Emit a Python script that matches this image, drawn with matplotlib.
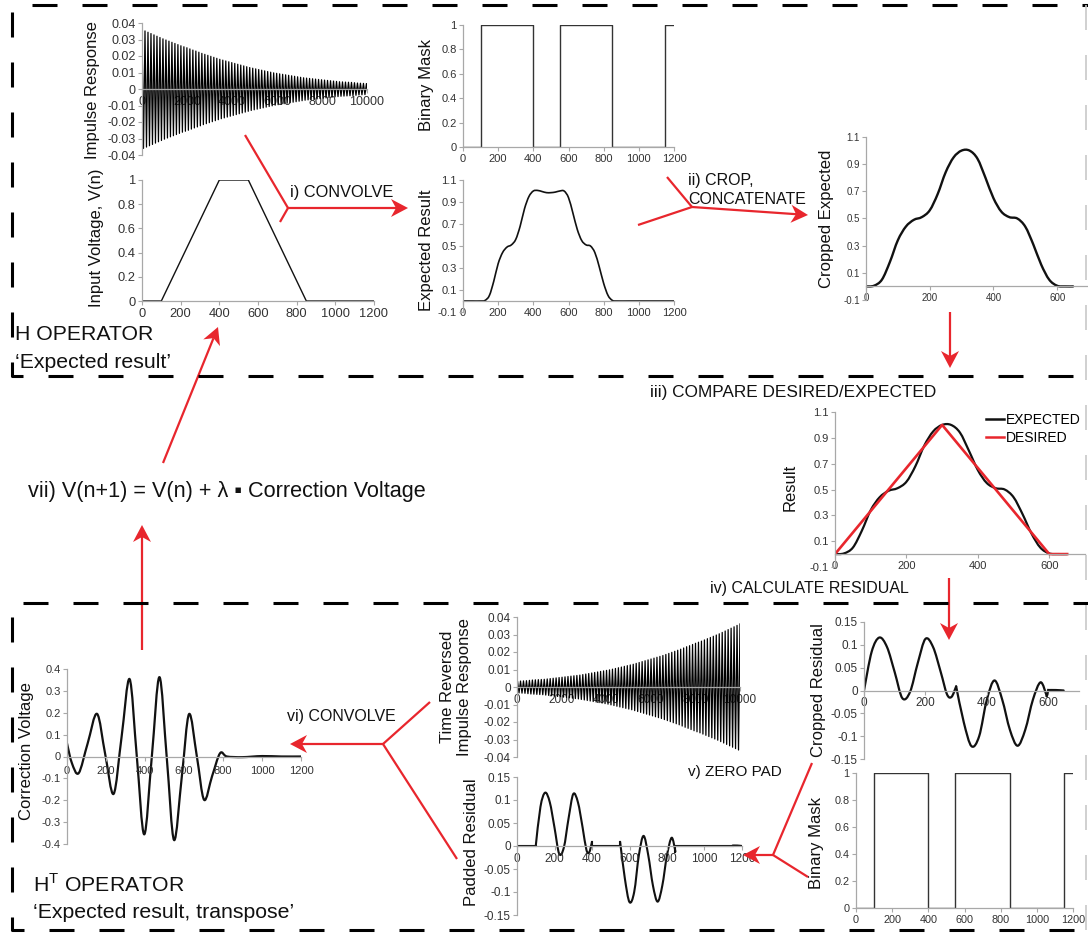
import numpy as np
import matplotlib
matplotlib.use("Agg")
import matplotlib.pyplot as plt
from matplotlib.lines import Line2D
from matplotlib.patches import PathPatch, Polygon
from matplotlib.path import Path
from matplotlib.ticker import FixedLocator, FuncFormatter

plt.rcParams["font.family"] = ["Liberation Sans", "DejaVu Sans"]
plt.rcParams["mathtext.fontset"] = "custom"
plt.rcParams["mathtext.rm"] = "Liberation Sans"
plt.rcParams["lines.scale_dashes"] = False

W, H = 1088, 933
RED = "#e8262d"
AXIS_GRAY = "#a8a8a8"
TICK_TEXT = "#333333"
INK = "#111111"

# ---------------- data ----------------
# impulse response: peak amplitude of each oscillation cycle
ir_cycle = 133
ir_peaks = [0.036, 0.0352, 0.0344, 0.0336, 0.0328, 0.032, 0.0312, 0.0304,
            0.0297, 0.029, 0.0283, 0.0276, 0.0269, 0.0262, 0.0256, 0.025,
            0.0243, 0.0236, 0.023, 0.0223, 0.0216, 0.021, 0.0204,
            0.0198, 0.0192, 0.0186, 0.018, 0.0175, 0.017, 0.0165, 0.016,
            0.0155, 0.015, 0.0145, 0.014, 0.0135, 0.013, 0.0126,
            0.0122, 0.0118, 0.0114, 0.011, 0.0106, 0.0102, 0.0098, 0.0095,
            0.0092, 0.0089, 0.0086, 0.0083, 0.008, 0.0077, 0.0074,
            0.0071, 0.0068, 0.0066, 0.0064, 0.0062, 0.006, 0.0058, 0.0056,
            0.0054, 0.0052, 0.005, 0.0048, 0.0046, 0.0044, 0.0043,
            0.0042, 0.0041, 0.004, 0.0038, 0.0036, 0.0035, 0.0034, 0.0033]

input_x = [0, 100, 400, 550, 850, 1200]
input_v = [0, 0, 1, 1, 0, 0]

mask_x = [0, 100, 100, 400, 400, 550, 550, 850, 850, 1150, 1150, 1200]
mask_y = [0, 0, 1, 1, 0, 0, 1, 1, 0, 0, 1, 1]
mask_windows = [(100, 400), (550, 850), (1150, 1200)]

expected_x = [0, 50, 100, 125, 150, 175, 200, 225, 250, 275, 300, 325, 350,
              375, 400, 425, 450, 475, 500, 525, 550, 575, 600, 625, 650,
              675, 700, 725, 750, 775, 800, 825, 850, 875, 950, 1050, 1200]
expected_y = [0, 0, 0, 0.005, 0.05, 0.18, 0.34, 0.44, 0.49, 0.51, 0.56, 0.68,
              0.84, 0.95, 1.0, 1.005, 0.995, 0.985, 0.985, 0.99, 1.0, 1.0,
              0.94, 0.8, 0.65, 0.55, 0.51, 0.5, 0.44, 0.31, 0.16, 0.05,
              0.005, 0, 0, 0, 0]

cropped_x = [0, 25, 50, 75, 100, 125, 150, 175, 200, 225, 250, 275, 300,
             325, 350, 375, 400, 425, 450, 475, 500, 525, 550, 575, 600,
             625, 650]
cropped_y = [0, 0.005, 0.05, 0.18, 0.34, 0.44, 0.49, 0.51, 0.56, 0.68, 0.84,
             0.95, 1.0, 1.0, 0.94, 0.8, 0.65, 0.55, 0.51, 0.5, 0.44, 0.31,
             0.16, 0.05, 0.005, 0, 0]

desired_x = [0, 300, 600, 650]
desired_y = [0, 1, 0, 0]

# residual, one piece per mask window
residual_segments = [
    ([0, 25, 50, 75, 100, 125, 150, 175, 200, 225, 250, 270, 285, 300],
     [0, 0.085, 0.116, 0.095, 0.04, -0.017, -0.003, 0.06, 0.113, 0.095,
      0.04, -0.008, -0.014, 0.009]),
    ([300, 325, 350, 375, 400, 425, 450, 475, 500, 525, 550, 575, 595],
     [0.009, -0.07, -0.122, -0.1, -0.02, 0.022, -0.02, -0.086, -0.121,
      -0.086, -0.02, 0.018, -0.012]),
    ([600, 625, 650],
     [0.001, 0.001, 0]),
]

corr_x = [0, 25, 60, 106, 154, 196, 239, 280, 321, 358, 396, 435, 474, 512,
          549, 589, 626, 666, 703, 744, 785, 820, 900, 1000, 1100, 1200]
corr_y = [0.06, -0.03, -0.076, 0.06, 0.195, 0.01, -0.171, 0.09, 0.354, 0.0,
          -0.356, 0.0, 0.363, -0.01, -0.382, -0.09, 0.194, 0.0, -0.198,
          -0.09, 0.015, 0.0, -0.003, 0.002, 0.0, 0.0]

ticks_1200 = [0, 200, 400, 600, 800, 1000, 1200]
ticks_600 = [0, 200, 400, 600]
ticks_10000 = [0, 2000, 4000, 6000, 8000, 10000]
yticks_ir = [-0.04, -0.03, -0.02, -0.01, 0, 0.01, 0.02, 0.03, 0.04]
yticks_unit = [0, 0.2, 0.4, 0.6, 0.8, 1]
yticks_result = [-0.1, 0.1, 0.3, 0.5, 0.7, 0.9, 1.1]
yticks_res = [-0.15, -0.1, -0.05, 0, 0.05, 0.1, 0.15]
yticks_corr = [-0.4, -0.3, -0.2, -0.1, 0, 0.1, 0.2, 0.3, 0.4]


fig = plt.figure(figsize=(W / 100, H / 100), dpi=100)


def fig_xy(x, y):
    return x / W, 1 - y / H


def smooth_path(x, y):
    # Catmull-Rom curve through the points, written as cubic Bezier pieces
    pts = np.column_stack([x, y]).astype(float)
    ext = np.vstack([pts[0], pts, pts[-1]])
    verts = [pts[0]]
    codes = [Path.MOVETO]
    for i in range(len(pts) - 1):
        p0, p1, p2, p3 = ext[i], ext[i + 1], ext[i + 2], ext[i + 3]
        verts += [p1 + (p2 - p0) / 6, p2 - (p3 - p1) / 6, p2]
        codes += [Path.CURVE4] * 3
    return Path(verts, codes)


def smooth(ax, x, y, color=INK, lw=1.6):
    ax.add_patch(PathPatch(smooth_path(x, y), fill=False, edgecolor=color,
                           lw=lw, capstyle="round", joinstyle="round"))


def fmt(v, _pos=None):
    return f"{round(v, 4) + 0.0:g}"


def make_axes(left, top, right, bottom, xlim, ylim, xticks, yticks, fs):
    ax = fig.add_axes([left / W, 1 - bottom / H, (right - left) / W,
                       (bottom - top) / H])
    ax.set_xlim(xlim)
    ax.set_ylim(ylim)
    ax.patch.set_alpha(0)
    for side in ("top", "right"):
        ax.spines[side].set_visible(False)
    for side in ("left", "bottom"):
        ax.spines[side].set_color(AXIS_GRAY)
        ax.spines[side].set_linewidth(0.9)
    ax.spines["bottom"].set_position(("data", 0))
    ax.xaxis.set_major_locator(FixedLocator(xticks))
    ax.yaxis.set_major_locator(FixedLocator(yticks))
    ax.xaxis.set_major_formatter(FuncFormatter(fmt))
    ax.yaxis.set_major_formatter(FuncFormatter(fmt))
    ax.tick_params(axis="both", direction="out", length=3, width=0.8,
                   color=AXIS_GRAY, labelsize=fs, labelcolor=TICK_TEXT)
    ax.tick_params(axis="y", pad=1.5)
    ax.tick_params(axis="x", pad=2)
    return ax


def ylabel(x, y, text, fs=12):
    fig.text(*fig_xy(x, y), text, rotation=90, ha="center", va="center",
             fontsize=fs, color=INK, linespacing=1.15)


def label(x, y, text, fs=11.5):
    fig.text(*fig_xy(x, y), text, ha="left", va="center", fontsize=fs,
             color=INK)


def red_line(*pts):
    xs = [p[0] / W for p in pts]
    ys = [1 - p[1] / H for p in pts]
    fig.add_artist(Line2D(xs, ys, color=RED, lw=1.6,
                          transform=fig.transFigure, solid_capstyle="butt"))


def red_arrow(x0, y0, x1, y1, length=17, half=9, notch=5):
    d = np.array([x1 - x0, y1 - y0], dtype=float)
    d /= np.hypot(*d)
    n = np.array([-d[1], d[0]])
    tip = np.array([x1, y1], dtype=float)
    back = tip - d * length
    red_line((x0, y0), tuple(back + d * notch))
    head = [tip, back + n * half, back + d * notch, back - n * half]
    fig.add_artist(Polygon([fig_xy(*p) for p in head], closed=True,
                           facecolor=RED, edgecolor="none",
                           transform=fig.transFigure))


def dashed(*pts, color="black", lw=2.2, dash=(18, 18)):
    xs = [p[0] / W for p in pts]
    ys = [1 - p[1] / H for p in pts]
    line = Line2D(xs, ys, color=color, lw=lw, transform=fig.transFigure,
                  dashes=dash, solid_capstyle="butt", dash_capstyle="butt")
    fig.add_artist(line)


# ---------------- H operator (top) ----------------
ir_t = np.arange(len(ir_peaks)) * ir_cycle
ir_x = np.column_stack([ir_t, ir_t + ir_cycle / 2]).ravel()
ir_y = np.column_stack([ir_peaks, -np.array(ir_peaks)]).ravel()

ax_ir = make_axes(142, 23, 367, 155, (0, 10000), (-0.04, 0.04),
                  ticks_10000, yticks_ir, 9)
ax_ir.plot(ir_x, ir_y, color="black", lw=0.9)
ylabel(93, 90, "Impulse Response")

ax_vin = make_axes(142, 180, 374, 301, (0, 1200), (0, 1),
                   ticks_1200, yticks_unit, 9.3)
ax_vin.plot(input_x, input_v, color=INK, lw=1.0)
ylabel(96, 238, "Input Voltage, V(n)")

ax_mask = make_axes(463, 25, 674, 147, (0, 1200), (0, 1),
                    ticks_1200, yticks_unit, 8)
ax_mask.plot(mask_x, mask_y, color="#333333", lw=1.0)
ylabel(426, 85, "Binary Mask")

ax_exp = make_axes(463, 180, 674, 312, (0, 1200), (-0.1, 1.1),
                   ticks_1200, yticks_result, 8)
smooth(ax_exp, expected_x, expected_y, lw=1.2)
ylabel(426, 250, "Expected Result")

ax_crop = make_axes(866, 137, 1089, 300, (0, 700), (-0.1, 1.1),
                    ticks_600, yticks_result, 7)
smooth(ax_crop, cropped_x, cropped_y, lw=1.7)
ylabel(826, 219, "Cropped Expected")

# ---------------- compare ----------------
ax_res = make_axes(835, 412, 1085, 567, (0, 700), (-0.1, 1.1),
                   ticks_600, yticks_result, 8)
smooth(ax_res, cropped_x, cropped_y, lw=1.6)
ax_res.plot(desired_x, desired_y, color=RED, lw=1.9)
ylabel(790, 487, "Result")
ax_res.legend(handles=[Line2D([], [], color=INK, lw=1.8),
                       Line2D([], [], color=RED, lw=1.8)],
              labels=["EXPECTED", "DESIRED"], loc="upper left",
              bbox_to_anchor=fig_xy(986, 413), bbox_transform=fig.transFigure,
              frameon=False, borderpad=0, borderaxespad=0, handlelength=1.3,
              handletextpad=0.15, labelspacing=0.3, fontsize=10)

# ---------------- H transpose operator (bottom) ----------------
ax_cres = make_axes(864, 622, 1079, 759, (0, 700), (-0.15, 0.15),
                    ticks_600, yticks_res, 8.5)
for i, (sx, sy) in enumerate(residual_segments):
    smooth(ax_cres, sx, sy, lw=1.6)
    if i + 1 < len(residual_segments):
        nx, ny = residual_segments[i + 1]
        ax_cres.plot([sx[-1], nx[0]], [sy[-1], ny[0]], color=INK, lw=1.6)
ylabel(818, 690, "Cropped Residual")

ax_mask2 = make_axes(856, 773, 1073, 908, (0, 1200), (0, 1),
                     ticks_1200, yticks_unit, 7.8)
ax_mask2.plot(mask_x, mask_y, color="#333333", lw=1.0)
ylabel(817, 843, "Binary Mask")

ax_trir = make_axes(517, 617, 740, 757, (0, 10000), (-0.04, 0.04),
                    ticks_10000, yticks_ir, 8.5)
ax_trir.plot(10000 - ir_x, ir_y, color="black", lw=0.9)
ylabel(456, 687, "Time Reversed\nImpulse Response")

# zero padding: residual pieces placed back into the mask windows
ax_pad = make_axes(517, 777, 742, 915, (0, 1200), (-0.15, 0.15),
                   ticks_1200, yticks_res, 8.5)
prev_end, prev_val = 0, 0
for (start, stop), (sx, sy) in zip(mask_windows, residual_segments):
    ax_pad.plot([prev_end, prev_end, start, start], [prev_val, 0, 0, sy[0]],
                color=INK, lw=1.5)
    shifted = np.array(sx) - sx[0] + start
    smooth(ax_pad, shifted, sy, lw=1.5)
    prev_end, prev_val = shifted[-1], sy[-1]
ylabel(472, 842, "Padded Residual")

ax_corr = make_axes(67, 669, 301, 844, (0, 1200), (-0.4, 0.4),
                    ticks_1200, yticks_corr, 8)
ax_corr.tick_params(axis="x", pad=4)
smooth(ax_corr, corr_x, corr_y, lw=1.6)
ylabel(27, 751, "Correction Voltage")

# ---------------- arrows and step labels ----------------
red_line((245, 135), (288, 208))
red_line((280, 222), (288, 208))
red_arrow(288, 208, 408, 208)
label(290, 192, "i) CONVOLVE", fs=11.8)

red_line((667, 177), (692, 207))
red_line((638, 225), (692, 207))
red_arrow(692, 207, 808, 215)
label(688, 181, "ii) CROP,")
label(688, 200, "CONCATENATE")

red_arrow(950, 312, 950, 368)
label(650, 393, "iii) COMPARE DESIRED/EXPECTED", fs=12.4)

label(710, 588, "iv) CALCULATE RESIDUAL")
red_arrow(949, 578, 949, 640)

red_line((812, 763), (773, 855))
red_line((808, 877), (773, 855))
red_arrow(773, 855, 743, 855)
label(688, 772, "v) ZERO PAD", fs=11)

red_line((430, 702), (383, 744))
red_line((457, 859), (383, 744))
red_arrow(383, 744, 290, 744)
label(287, 717, "vi) CONVOLVE")

red_arrow(142, 650, 142, 525)
red_arrow(163, 463, 218, 327)
label(28, 492, "vii) V(n+1) = V(n) + \u03bb \u25aa Correction Voltage", fs=15.6)

label(15, 335, "H OPERATOR", fs=15.3)
label(15, 362, "\u2018Expected result\u2019", fs=15.3)
label(33, 885, r"H$^{\mathrm{T}}$ OPERATOR", fs=15.3)
label(33, 912, "\u2018Expected result, transpose\u2019", fs=15.3)

# ---------------- dashed operator boxes ----------------
dashed((32, 5), (1088, 5))
dashed((12, 12), (12, 376), (1088, 376))
dashed((23, 603), (1088, 603))
dashed((12, 617), (12, 930), (1088, 930))
dashed((1086, 5), (1086, 930), color="#c8c8c8", lw=1.2)

fig.savefig("out.png", dpi=100)
